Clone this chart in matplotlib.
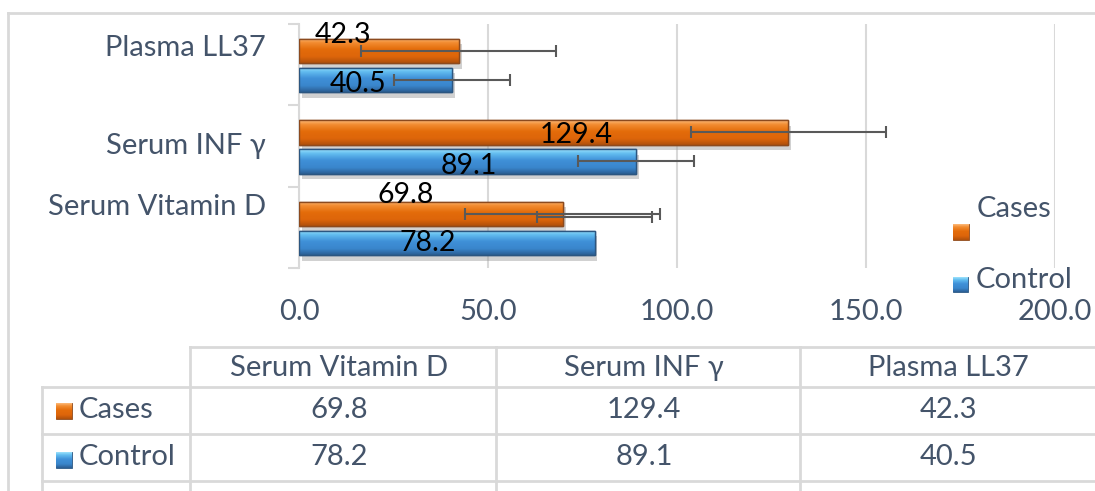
import numpy as np
import matplotlib
matplotlib.use("Agg")
import matplotlib.pyplot as plt
import matplotlib.patheffects as pe
from matplotlib.patches import Rectangle
from matplotlib.lines import Line2D

plt.rcParams['font.family'] = ['Lato', 'DejaVu Sans']

# ---------------- data ----------------
categories = ["Serum Vitamin D", "Serum INF \u03b3", "Plasma LL37"]
series_names = ["Cases", "Control"]
cases = [69.8, 129.4, 42.3]
control = [78.2, 89.1, 40.5]
cases_err = [25.8, 25.8, 25.8]
control_err = [15.3, 15.3, 15.3]
x_ticks = [0, 50, 100, 150, 200]
x_tick_labels = ["0.0", "50.0", "100.0", "150.0", "200.0"]

# ---------------- style / layout ----------------
W, H = 1095, 491
TXT = '#44546A'
GRID = '#D9D9D9'
ORANGE_GRAD = ['#FDBA7A', '#F28C30', '#E46C0A', '#DD650A', '#B0500C']
BLUE_GRAD = ['#9CE2FC', '#62BCEF', '#3F90D8', '#3A86CC', '#2B5E93']
ORANGE_EDGE = '#8C4A1E'
BLUE_EDGE = '#2C5680'
FS = 21
FS_LAB = 20.5

fig = plt.figure(figsize=(W / 100, H / 100), dpi=100)
ax = fig.add_axes([299 / W, 1 - 268 / H, (1055 - 299) / W, (268 - 24) / H])

pos = np.arange(len(categories))
bar_h = 0.30
off_cases = 0.167
off_ctrl = -0.19


def grad_array(cols, n=60):
    from matplotlib.colors import to_rgb
    stops = np.array([0.0, 0.18, 0.45, 0.75, 1.0])
    rgb = np.array([to_rgb(c) for c in cols])
    t = np.linspace(0, 1, n)
    arr = np.stack([np.interp(t, stops, rgb[:, k]) for k in range(3)], axis=1)
    return arr[:, None, :]


def shade_patch(axis, patch, cols, extent):
    im = axis.imshow(grad_array(cols), extent=extent, origin='upper',
                     aspect='auto', zorder=patch.get_zorder() + 0.1,
                     interpolation='bilinear')
    im.set_clip_path(patch)


shadow = [pe.SimplePatchShadow(offset=(2, -4), shadow_rgbFace='#9A9A9A', alpha=0.45), pe.Normal()]

bars_c = ax.barh(pos + off_cases, cases, height=bar_h, color=ORANGE_GRAD[2],
                 edgecolor=ORANGE_EDGE, linewidth=1.0, zorder=3, path_effects=shadow)
bars_k = ax.barh(pos + off_ctrl, control, height=bar_h, color=BLUE_GRAD[2],
                 edgecolor=BLUE_EDGE, linewidth=1.0, zorder=3, path_effects=shadow)

for bars, cols in ((bars_c, ORANGE_GRAD), (bars_k, BLUE_GRAD)):
    for b in bars:
        x0, y0 = b.get_x(), b.get_y()
        w, h = b.get_width(), b.get_height()
        shade_patch(ax, b, cols, (x0, x0 + w, y0, y0 + h))
        edge = Rectangle((x0, y0), w, h, fill=False,
                         edgecolor=b.get_edgecolor(), linewidth=1.0, zorder=3.5)
        ax.add_patch(edge)

# error bars (the control bar of the first category is drawn shifted, as in the source)
err_shift_ctrl = [0.32, 0.0, 0.0]
ax.errorbar(cases, pos + off_cases, xerr=cases_err, fmt='none', ecolor='#595959',
            elinewidth=1.5, capsize=4.5, capthick=1.5, zorder=5)
ax.errorbar(control, pos + off_ctrl + np.array(err_shift_ctrl), xerr=control_err,
            fmt='none', ecolor='#595959', elinewidth=1.5, capsize=4.5, capthick=1.5, zorder=5)

# data labels
lab_frac_c = [0.404, 0.566, 0.277]
lab_frac_k = [0.437, 0.505, 0.385]
lab_dy_c = [19, -3, 16]
lab_dy_k = [0, -5, -4]
for i in range(len(categories)):
    ax.annotate(f"{cases[i]:.1f}", (cases[i] * lab_frac_c[i], pos[i] + off_cases),
                xytext=(0, lab_dy_c[i]), textcoords='offset pixels',
                ha='center', va='center', fontsize=FS_LAB, color='black', zorder=6)
    ax.annotate(f"{control[i]:.1f}", (control[i] * lab_frac_k[i], pos[i] + off_ctrl),
                xytext=(0, lab_dy_k[i]), textcoords='offset pixels',
                ha='center', va='center', fontsize=FS_LAB, color='black', zorder=6)

ax.set_xlim(0, 200)
ax.set_ylim(-0.5, len(categories) - 0.5)
ax.set_xticks(x_ticks)
ax.set_xticklabels(x_tick_labels, fontsize=FS, color=TXT)
ax.tick_params(axis='x', length=0, pad=22)
ax.set_yticks([])
ax.set_yticks(np.arange(len(categories) + 1) - 0.5, minor=True)
ax.tick_params(axis='y', which='minor', length=8, width=1.5, color=GRID, direction='out')
ax.grid(axis='x', color=GRID, linewidth=1.5, zorder=0)
ax.set_axisbelow(True)
for s in ('top', 'right', 'bottom'):
    ax.spines[s].set_visible(False)
ax.spines['left'].set_color(GRID)
ax.spines['left'].set_linewidth(1.5)

# category labels
cat_dy = [20, 0, 17]
for i, c in enumerate(categories):
    ax.annotate(c, (0, pos[i]), xytext=(-33, cat_dy[i]), textcoords='offset pixels',
                ha='right', va='center', fontsize=FS, color=TXT,
                annotation_clip=False)

# ---------------- overlay (frame, legend, data table) ----------------
ov = fig.add_axes([0, 0, 1, 1], zorder=-1)
ov.set_xlim(0, W)
ov.set_ylim(H, 0)
ov.axis('off')
ov.patch.set_alpha(0)

ov2 = fig.add_axes([0, 0, 1, 1], zorder=10)
ov2.set_xlim(0, W)
ov2.set_ylim(H, 0)
ov2.axis('off')
ov2.patch.set_alpha(0)

LW = 2.0
ov.add_line(Line2D([8, W], [13, 13], color=GRID, lw=LW))
ov.add_line(Line2D([8, 8], [13, H], color=GRID, lw=LW))


def swatch(axis, x0, y0, s, cols, edge):
    r = Rectangle((x0, y0), s, s, facecolor=cols[2], edgecolor=edge, lw=0.6, zorder=3)
    axis.add_patch(r)
    im = axis.imshow(grad_array(cols), extent=(x0, x0 + s, y0 + s, y0),
                     origin='upper', aspect='auto', zorder=3.1)
    im.set_clip_path(r)


# legend
swatch(ov2, 953, 224, 16, ORANGE_GRAD, ORANGE_EDGE)
ov2.text(977, 209, series_names[0], fontsize=FS, color=TXT, ha='left', va='center')
swatch(ov2, 953, 277, 15, BLUE_GRAD, BLUE_EDGE)
ov2.text(976, 280, series_names[1], fontsize=FS, color=TXT, ha='left', va='center')

# data table
col_x = [190, 496, 800, 1104]
row_y = [347, 387, 434, 481]
ov2.add_line(Line2D([190, W], [347, 347], color=GRID, lw=LW))
for yy in row_y[1:]:
    ov2.add_line(Line2D([42, W], [yy, yy], color=GRID, lw=LW))
for xx in col_x[:-1]:
    ov2.add_line(Line2D([xx, xx], [347, H], color=GRID, lw=LW))
ov2.add_line(Line2D([42, 42], [387, H], color=GRID, lw=LW))

for j, c in enumerate(categories):
    cx = (col_x[j] + col_x[j + 1]) / 2 - 4
    ov2.text(cx, 368, c, fontsize=FS, color=TXT, ha='center', va='center')
    ov2.text(cx, 410, f"{cases[j]:.1f}", fontsize=FS, color=TXT, ha='center', va='center')
    ov2.text(cx, 457, f"{control[j]:.1f}", fontsize=FS, color=TXT, ha='center', va='center')

swatch(ov2, 56, 403, 16, ORANGE_GRAD, ORANGE_EDGE)
ov2.text(79, 410, series_names[0], fontsize=FS, color=TXT, ha='left', va='center')
swatch(ov2, 56, 452, 16, BLUE_GRAD, BLUE_EDGE)
ov2.text(79, 457, series_names[1], fontsize=FS, color=TXT, ha='left', va='center')

fig.savefig("out.png", dpi=100)
